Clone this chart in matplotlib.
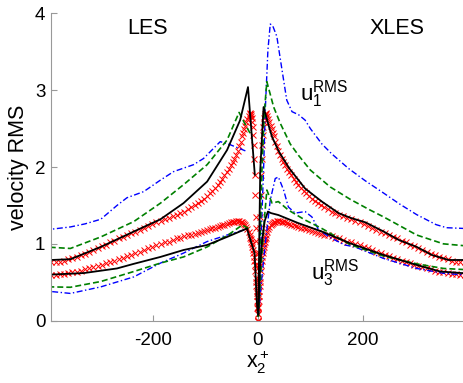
import numpy as np
import matplotlib
matplotlib.use('Agg')
import matplotlib.pyplot as plt

plt.rcParams['font.family'] = ['Liberation Sans', 'DejaVu Sans']
plt.rcParams['mathtext.fontset'] = 'custom'
plt.rcParams['mathtext.rm'] = 'Liberation Sans'
plt.rcParams['lines.scale_dashes'] = False
plt.rcParams['axes.unicode_minus'] = False

# DNS (mirrored both sides), y+ and rms values
dns_yp = [0, 0.5, 1, 1.5, 2, 2.5, 3, 3.5, 4, 5, 6, 7, 8, 9, 10, 11, 12, 13, 14, 15,
          16, 18, 20, 22, 24, 26, 28, 30, 33, 36, 39, 42, 45, 48, 52, 56, 60, 64, 68, 72,
          77, 82, 87, 92, 97, 103, 109, 115, 121, 127, 134, 141, 148, 155, 162, 170, 178,
          186, 194, 202, 210, 218, 226, 234, 242, 250, 258, 266, 274, 282, 290, 298, 306,
          314, 322, 330, 338, 346, 354, 362, 370, 378, 386, 395]
dns_u1 = [0, 0.18, 0.36, 0.54, 0.71, 0.88, 1.04, 1.20, 1.35, 1.64, 1.89, 2.10, 2.28, 2.42,
          2.52, 2.59, 2.64, 2.67, 2.69, 2.70, 2.69, 2.67, 2.63, 2.59, 2.54, 2.49, 2.44, 2.40,
          2.33, 2.27, 2.21, 2.16, 2.11, 2.07, 2.02, 1.97, 1.93, 1.89, 1.85, 1.81, 1.77, 1.73,
          1.69, 1.66, 1.62, 1.59, 1.56, 1.53, 1.50, 1.48, 1.45, 1.42, 1.40, 1.38, 1.36, 1.34,
          1.32, 1.30, 1.28, 1.26, 1.23, 1.21, 1.18, 1.16, 1.14, 1.11, 1.09, 1.07, 1.04, 1.02,
          0.99, 0.97, 0.94, 0.92, 0.90, 0.87, 0.85, 0.83, 0.81, 0.80, 0.78, 0.77, 0.77, 0.77]
dns_u3 = [0, 0.09, 0.17, 0.25, 0.32, 0.39, 0.45, 0.51, 0.56, 0.65, 0.72, 0.78, 0.83, 0.88,
          0.92, 0.96, 1.00, 1.03, 1.06, 1.08, 1.11, 1.15, 1.19, 1.22, 1.24, 1.26, 1.27, 1.28,
          1.29, 1.30, 1.30, 1.30, 1.29, 1.29, 1.28, 1.27, 1.26, 1.25, 1.24, 1.23, 1.22, 1.21,
          1.20, 1.19, 1.18, 1.17, 1.16, 1.14, 1.13, 1.12, 1.11, 1.10, 1.08, 1.07, 1.05, 1.03,
          1.02, 1.00, 0.98, 0.96, 0.94, 0.92, 0.90, 0.88, 0.86, 0.84, 0.82, 0.80, 0.78, 0.76,
          0.75, 0.73, 0.71, 0.70, 0.68, 0.67, 0.65, 0.64, 0.63, 0.62, 0.61, 0.61, 0.60, 0.60]

# LES (left side, plotted at -y+)
les_black_u1_yp = [6, 19, 34, 59, 97, 142, 186, 237, 300, 358, 395]
les_black_u1 = [1.9, 3.04, 2.61, 2.22, 1.81, 1.53, 1.32, 1.16, 0.96, 0.80, 0.79]
les_black_u3_yp = [0.5, 2, 6.5, 21, 59, 97, 142, 186, 237, 269, 332, 395]
les_black_u3 = [0.12, 0.23, 0.88, 1.20, 1.09, 0.985, 0.92, 0.83, 0.74, 0.68, 0.62, 0.60]
les_green_u1_yp = [15, 24, 36, 59, 97, 142, 186, 237, 300, 358, 395]
les_green_u1 = [2.44, 2.55, 2.71, 2.35, 2.03, 1.77, 1.53, 1.29, 1.09, 0.94, 0.955]
les_green_u3_yp = [18, 30, 56, 97, 142, 186, 237, 300, 358, 395]
les_green_u3 = [1.20, 1.245, 1.12, 0.96, 0.83, 0.75, 0.64, 0.51, 0.435, 0.44]
les_blue_u1_yp = [24, 53, 62, 72, 104, 123, 161, 186, 218, 250, 269, 300, 330, 358, 395]
les_blue_u1 = [2.21, 2.29, 2.31, 2.33, 2.11, 2.03, 1.94, 1.83, 1.68, 1.60, 1.50, 1.32, 1.26, 1.22, 1.19]
les_blue_u3_yp = [27, 59, 97, 142, 186, 237, 300, 358, 395]
les_blue_u3 = [1.18, 1.115, 1.03, 0.88, 0.75, 0.57, 0.44, 0.355, 0.38]

# XLES (right side)
xles_black_u1_yp = [0.5, 4.4, 10.7, 20, 27, 40, 60, 90, 122, 154, 176, 205, 240, 269, 303, 332, 364, 395]
xles_black_u1 = [0.08, 1.96, 2.78, 2.55, 2.39, 2.20, 1.98, 1.72, 1.55, 1.40, 1.34, 1.28, 1.16, 1.05, 0.96, 0.855, 0.79, 0.79]
xles_black_u3_yp = [0.5, 4, 8, 13, 19, 25, 39, 77, 122, 176, 240, 303, 348, 395]
xles_black_u3 = [0.08, 0.70, 1.05, 1.30, 1.42, 1.40, 1.375, 1.27, 1.16, 1.007, 0.855, 0.725, 0.64, 0.617]
xles_green_u1_yp = [0.5, 7.6, 12, 17, 30, 42.5, 61.6, 77.6, 100, 138, 176, 214, 240, 303, 354, 395]
xles_green_u1 = [0.05, 1.96, 2.70, 3.11, 2.78, 2.57, 2.30, 2.15, 1.96, 1.74, 1.58, 1.44, 1.35, 1.115, 1.0, 0.975]
xles_green_u3_yp = [0.5, 7, 12, 17, 27, 39, 58, 90, 122, 176, 240, 303, 354, 395]
xles_green_u3 = [0.05, 0.80, 1.30, 1.70, 1.53, 1.55, 1.44, 1.31, 1.20, 0.99, 0.84, 0.74, 0.68, 0.665]
xles_blue_u1_yp = [0.5, 10.7, 14, 19, 23.5, 28, 36, 46, 55, 65, 77.6, 90, 100, 122, 141, 173, 205, 240, 270, 303, 340, 360, 395]
xles_blue_u1 = [0.05, 1.96, 2.74, 3.52, 3.86, 3.84, 3.70, 3.26, 2.87, 2.72, 2.68, 2.61, 2.50, 2.30, 2.17, 1.98, 1.82, 1.66, 1.52, 1.38, 1.25, 1.21, 1.20]
xles_blue_u3_yp = [0.5, 8, 14, 23.5, 33, 39, 49, 58, 71, 90, 103, 116, 141, 166, 185, 240, 303, 354, 395]
xles_blue_u3 = [0.05, 0.60, 1.00, 1.57, 1.85, 1.87, 1.70, 1.48, 1.40, 1.42, 1.35, 1.18, 1.07, 0.985, 0.96, 0.81, 0.68, 0.617, 0.595]

fig = plt.figure(figsize=(4.64, 3.83), dpi=100)
ax = fig.add_axes([51 / 464, 62.3 / 383, 413.9 / 464, 307.4 / 383])

dns_x = np.array(dns_yp)
for sgn in (-1, 1):
    ax.plot(sgn * dns_x, dns_u1, 'x', color='r', ms=4, mew=0.7)
    ax.plot(sgn * dns_x, dns_u3, 'x', color='r', ms=4, mew=0.7)

blue_style = dict(color='b', lw=1.0, dashes=(4.3, 1.8, 1, 1.8))
green_style = dict(color=(0, 0.5, 0), lw=1.2, dashes=(4.3, 2.2))
black_style = dict(color='k', lw=1.3)

ax.plot(-np.array(les_blue_u1_yp), les_blue_u1, **blue_style)
ax.plot(-np.array(les_blue_u3_yp), les_blue_u3, **blue_style)
ax.plot(xles_blue_u1_yp, xles_blue_u1, **blue_style)
ax.plot(xles_blue_u3_yp, xles_blue_u3, **blue_style)
ax.plot(-np.array(les_green_u1_yp), les_green_u1, **green_style)
ax.plot(-np.array(les_green_u3_yp), les_green_u3, **green_style)
ax.plot(xles_green_u1_yp, xles_green_u1, **green_style)
ax.plot(xles_green_u3_yp, xles_green_u3, **green_style)
ax.plot(-np.array(les_black_u1_yp), les_black_u1, **black_style)
ax.plot(-np.array(les_black_u3_yp), les_black_u3, **black_style)
ax.plot(xles_black_u1_yp, xles_black_u1, **black_style)
ax.plot(xles_black_u3_yp, xles_black_u3, **black_style)

ax.set_xlim(-395, 395)
ax.set_ylim(0, 4)
ax.set_xticks([-200, 0, 200])
ax.set_yticks([0, 1, 2, 3, 4])
for s in ('top', 'right'):
    ax.spines[s].set_visible(False)
for s in ('left', 'bottom'):
    ax.spines[s].set_color('0.6')
ax.tick_params(direction='in', length=4, color='0.6', labelsize=13.5)
ax.tick_params(axis='y', pad=4)
ax.tick_params(axis='x', pad=8)

ax.text(-211, 3.80, 'LES', fontsize=15.5, ha='center', va='center')
ax.text(266, 3.80, 'XLES', fontsize=15.5, ha='center', va='center')
ax.text(80, 2.87, r'$\mathregular{u_1^{RMS}}$', fontsize=16, ha='left', va='baseline')
ax.text(102, 0.53, r'$\mathregular{u_3^{RMS}}$', fontsize=16, ha='left', va='baseline')

ax.set_ylabel('velocity RMS', fontsize=15.5, labelpad=4)
ax.set_xlabel(r'$\mathregular{x_2^+}$', fontsize=15.5, labelpad=0)

fig.savefig('out.png', dpi=100)
